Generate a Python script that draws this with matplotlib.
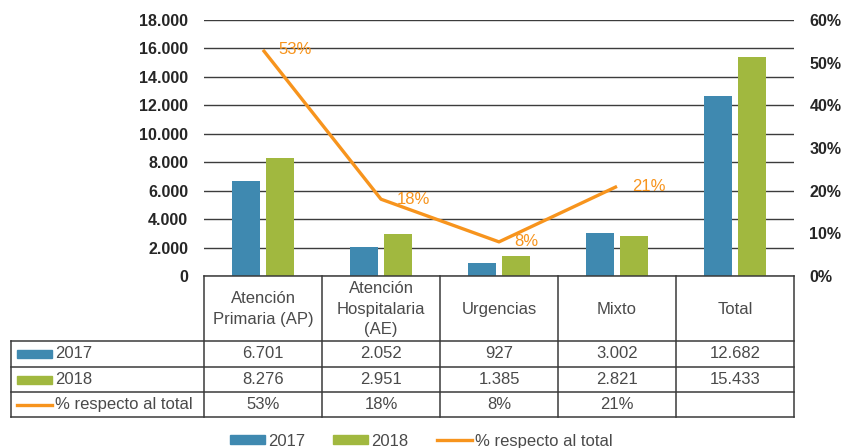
import matplotlib
matplotlib.use("Agg")
import matplotlib.pyplot as plt
from matplotlib import font_manager, transforms
from matplotlib.patches import Rectangle
from matplotlib.lines import Line2D
import numpy as np

# ---------------- data ----------------
categories = ["Atención\nPrimaria (AP)", "Atención\nHospitalaria\n(AE)", "Urgencias", "Mixto", "Total"]
v2017 = [6701, 2052, 927, 3002, 12682]
v2018 = [8276, 2951, 1385, 2821, 15433]
pct = [53, 18, 8, 21]
series_names = ["2017", "2018", "% respecto al total"]
left_ticks = [0, 2000, 4000, 6000, 8000, 10000, 12000, 14000, 16000, 18000]
right_ticks = [0, 10, 20, 30, 40, 50, 60]

# ---------------- style ----------------
BLUE = "#3f89b0"
GREEN = "#a1b83f"
ORANGE = "#f7941d"
TXT = "#4a4a4a"
TICK = "#262626"
GRID = "#3c3c3c"
LINE = "#3a3a3a"

avail = {f.name for f in font_manager.fontManager.ttflist}
FONT = "Liberation Sans" if "Liberation Sans" in avail else "DejaVu Sans"
plt.rcParams["font.family"] = [FONT, "DejaVu Sans"]

def fmt(v):
    return f"{v:,}".replace(",", ".")

W, H = 843, 448
fig = plt.figure(figsize=(W / 100, H / 100), dpi=100)

def fx(x):
    return x / W

def fy(y):
    return 1 - y / H

ax = fig.add_axes([fx(204), fy(276), fx(794) - fx(204), fy(20) - fy(276)])
x = np.arange(len(categories))
ax.set_xlim(-0.5, len(categories) - 0.5)
ax.set_ylim(0, 18000)
ax.bar(x - 0.144, v2017, 0.23, color=BLUE, zorder=3)
ax.bar(x + 0.144, v2018, 0.23, color=GREEN, zorder=3)
ax.set_yticks(left_ticks)
ax.set_yticklabels([fmt(t) for t in left_ticks])
ax.grid(axis="y", color=GRID, lw=1.0, zorder=0)
ax.set_axisbelow(True)
ax.set_xticks([])
for s in ax.spines.values():
    s.set_visible(False)
ax.tick_params(axis="y", length=0, pad=11.5, labelsize=11.5, labelcolor=TICK)
for lab in ax.get_yticklabels():
    lab.set_fontweight("bold")

FS = 12

ax2 = ax.twinx()
ax2.set_ylim(0, 60)
ax2.plot(x[:len(pct)], pct, color=ORANGE, lw=2.4, solid_capstyle="butt", zorder=4)
for xi, p in zip(x, pct):
    ax2.annotate(f"{p}%", (xi, p), xytext=(11, 0), textcoords="offset points",
                 ha="left", va="center", color=ORANGE, fontsize=FS)
ax2.set_yticks(right_ticks)
ax2.set_yticklabels([f"{t}%" for t in right_ticks])
ax2.tick_params(axis="y", length=0, pad=11, labelsize=11.5, labelcolor=TICK)
for lab in ax2.get_yticklabels():
    lab.set_fontweight("bold")
for s in ax2.spines.values():
    s.set_visible(False)

# ---------------- data table ----------------
blend = transforms.blended_transform_factory(ax.transData, fig.transFigure)
x_left_tab = fx(11)
x_right = fx(794)
rows_y = [341, 367, 392, 417]

def hline(y, x0, x1, lw=1.1):
    fig.add_artist(Line2D([x0, x1], [fy(y), fy(y)], transform=fig.transFigure,
                          color=LINE, lw=lw))

hline(276, fx(204), x_right)
for ry in rows_y:
    hline(ry, x_left_tab, x_right)
for b in np.arange(-0.5, len(categories), 1.0):
    fig.add_artist(Line2D([b, b], [fy(276), fy(417)], transform=blend, color=LINE, lw=1.1))
fig.add_artist(Line2D([x_left_tab, x_left_tab], [fy(341), fy(417)],
                      transform=fig.transFigure, color=LINE, lw=1.1))

for xi, c in zip(x, categories):
    fig.text(xi, fy(309), c, transform=blend, ha="center", va="center",
             fontsize=FS, color=TXT, linespacing=1.42)

row_centers = [354, 379.5, 404.5]
for xi, v in zip(x, v2017):
    fig.text(xi, fy(row_centers[0]), fmt(v), transform=blend, ha="center", va="center",
             fontsize=FS, color=TXT)
for xi, v in zip(x, v2018):
    fig.text(xi, fy(row_centers[1]), fmt(v), transform=blend, ha="center", va="center",
             fontsize=FS, color=TXT)
for xi, p in zip(x, pct):
    fig.text(xi, fy(row_centers[2]), f"{p}%", transform=blend, ha="center", va="center",
             fontsize=FS, color=TXT)

# row labels with keys
for yc, col in zip(row_centers[:2], [BLUE, GREEN]):
    fig.add_artist(Rectangle((fx(17), fy(yc + 4)), fx(52) - fx(17), fy(yc - 4) - fy(yc + 4),
                             transform=fig.transFigure, color=col))
fig.add_artist(Line2D([fx(17), fx(52)], [fy(row_centers[2]), fy(row_centers[2])],
                      transform=fig.transFigure, color=ORANGE, lw=2.4))
for yc, name in zip(row_centers, series_names):
    fig.text(fx(55), fy(yc), name, ha="left", va="center", fontsize=FS, color=TXT)

# ---------------- bottom legend ----------------
handles = [Rectangle((0, 0), 1, 1, color=BLUE), Rectangle((0, 0), 1, 1, color=GREEN),
           Line2D([0], [0], color=ORANGE, lw=2.4)]
fig.legend(handles, series_names, loc="center", bbox_to_anchor=(fx(421), fy(441)),
           ncol=3, frameon=False, fontsize=FS, labelcolor=TXT, handlelength=2.1,
           handleheight=0.48, handletextpad=0.18, columnspacing=1.7, borderpad=0,
           borderaxespad=0)

fig.savefig("out.png", dpi=100)
